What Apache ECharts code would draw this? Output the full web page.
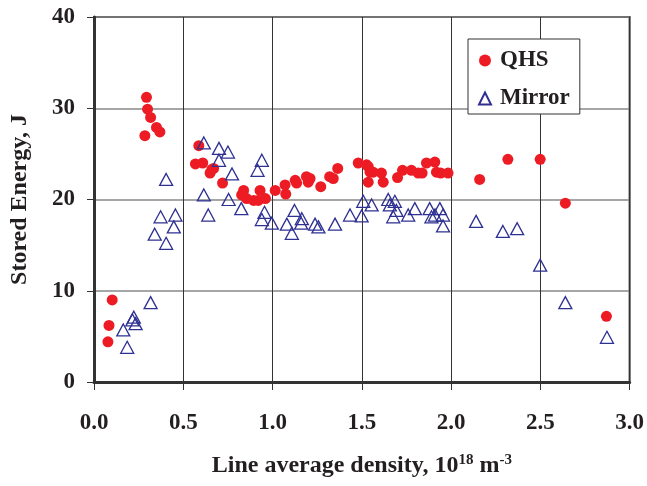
<!DOCTYPE html>
<html>
<head>
<meta charset="utf-8">
<script src="https://cdn.jsdelivr.net/npm/echarts@6/dist/echarts.min.js"></script>
<style>html,body{margin:0;padding:0;background:#fff}#c{width:647px;height:486px}</style>
</head>
<body>
<div id="c"></div>
<script>
const xTicks = [0.0, 0.5, 1.0, 1.5, 2.0, 2.5, 3.0];
const yTicks = [0, 10, 20, 30, 40];

const qhsDensity = [0.078,0.084,0.102,0.285,0.294,0.300,0.317,0.350,0.369,0.568,0.587,0.609,0.650,0.660,0.670,0.720,0.827,0.838,0.855,0.894,0.920,0.930,0.960,1.015,1.070,1.074,1.127,1.135,1.190,1.200,1.210,1.270,1.320,1.340,1.365,1.480,1.527,1.536,1.546,1.536,1.564,1.610,1.620,1.700,1.728,1.778,1.816,1.838,1.862,1.909,1.918,1.942,1.983,2.160,2.318,2.499,2.640,2.870];
const qhsEnergy  = [4.4,6.2,9.0,27.0,31.2,29.9,29.0,27.9,27.4,23.9,25.9,24.0,22.9,23.3,23.4,21.8,20.5,21.0,20.1,19.9,19.9,21.0,20.1,21.0,21.6,20.6,22.1,21.8,22.5,21.9,22.3,21.4,22.5,22.3,23.4,24.0,23.8,23.6,23.0,21.9,23.0,22.9,21.9,22.4,23.2,23.2,22.9,22.9,24.0,24.1,23.0,22.9,22.9,22.2,24.4,24.4,19.6,7.2];

const mirrorDensity = [0.164,0.186,0.215,0.223,0.233,0.317,0.340,0.373,0.404,0.404,0.447,0.456,0.615,0.615,0.640,0.700,0.700,0.750,0.754,0.773,0.825,0.916,0.940,0.955,0.940,0.996,1.080,1.108,1.123,1.160,1.164,1.238,1.257,1.350,1.434,1.499,1.508,1.555,1.648,1.657,1.685,1.694,1.676,1.760,1.797,1.880,1.890,1.910,1.937,1.955,1.955,2.140,2.290,2.370,2.499,2.640,2.873];
const mirrorEnergy  = [5.7,3.8,6.8,7.1,6.4,8.7,16.2,18.1,15.2,22.2,17.0,18.3,26.2,20.5,18.3,25.6,24.3,25.2,20.0,22.8,19.0,23.2,24.3,18.6,17.8,17.4,17.3,16.3,18.8,17.4,17.9,17.3,17.0,17.3,18.3,18.2,19.8,19.4,20.0,19.4,19.8,18.8,18.1,18.3,19.0,19.0,18.1,18.3,19.0,18.3,17.1,17.6,16.5,16.8,12.8,8.7,4.9];

const FONT = 'Liberation Serif';
const chart = echarts.init(document.getElementById('c'), null, {renderer: 'canvas'});
chart.setOption({
  animation: false,
  backgroundColor: '#ffffff',
  grid: {left: 94, right: 15, top: 17, bottom: 104, show: true, borderColor: '#333', borderWidth: 2, backgroundColor: 'transparent'},
  legend: {
    orient: 'vertical', left: 468, top: 39,
    backgroundColor: '#fff', borderColor: '#333', borderWidth: 1,
    padding: [10, 10, 4, 10], itemGap: 15, itemWidth: 12, itemHeight: 12,
    textStyle: {fontFamily: FONT, fontWeight: 'bold', fontSize: 23, color: '#231f20', padding: [0, 0, 0, 4]},
    data: ['QHS', 'Mirror']
  },
  xAxis: {
    type: 'value', min: 0, max: 3, interval: 0.5,
    name: 'Line average density, 10{sup|18} m{sup|-3}',
    nameLocation: 'middle', nameGap: 71,
    nameTextStyle: {fontFamily: FONT, fontWeight: 'bold', fontSize: 24, color: '#231f20',
      rich: {sup: {fontFamily: FONT, fontWeight: 'bold', fontSize: 15, color: '#231f20', verticalAlign: 'top', padding: [0,0,10,0]}}},
    axisLine: {show: true, onZero: false, lineStyle: {color: '#333', width: 3}},
    axisTick: {show: true, length: 8, lineStyle: {color: '#333', width: 1}},
    axisLabel: {margin: 30, fontFamily: FONT, fontWeight: 'bold', fontSize: 23, color: '#231f20',
      formatter: v => v.toFixed(1)},
    splitLine: {show: true, lineStyle: {color: '#333', width: 1}}
  },
  yAxis: {
    type: 'value', min: 0, max: 40, interval: 10,
    name: 'Stored Energy, J', nameLocation: 'middle', nameGap: 62, nameRotate: 90,
    nameTextStyle: {fontFamily: FONT, fontWeight: 'bold', fontSize: 24, color: '#231f20'},
    axisLine: {show: true, onZero: false, lineStyle: {color: '#333', width: 3}},
    axisTick: {show: true, length: 7, lineStyle: {color: '#333', width: 1}},
    axisLabel: {margin: 19, fontFamily: FONT, fontWeight: 'bold', fontSize: 23, color: '#231f20'},
    splitLine: {show: true, lineStyle: {color: '#888', width: 1.5}}
  },
  series: [
    {
      name: 'QHS', type: 'scatter', symbol: 'circle', symbolSize: 11,
      itemStyle: {color: '#ed1c24', opacity: 1},
      data: qhsDensity.map((x, i) => [x, qhsEnergy[i]]), z: 3
    },
    {
      name: 'Mirror', type: 'scatter', symbol: 'triangle', symbolSize: [13, 12],
      itemStyle: {color: 'rgba(255,255,255,0)', borderColor: '#2e3192', borderWidth: 1.3, opacity: 1},
      data: mirrorDensity.map((x, i) => [x, mirrorEnergy[i]]), z: 4
    }
  ]
});
</script>
</body>
</html>
